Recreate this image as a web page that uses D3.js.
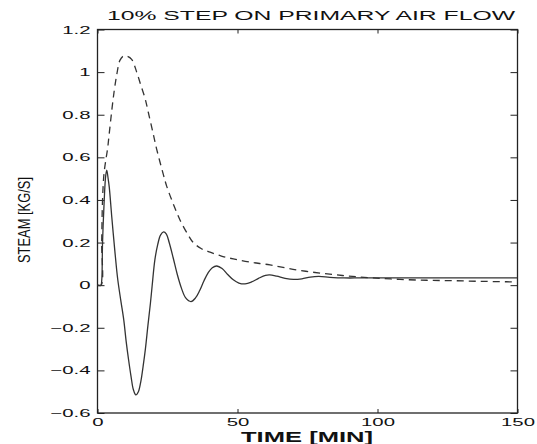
<!DOCTYPE html>
<html>
<head>
<meta charset="utf-8">
<script src="https://cdn.jsdelivr.net/npm/d3@7"></script>
<style>
  body { margin: 0; background: #fff; }
  text { font-family: "Liberation Sans", Arial, sans-serif; fill: #111; }
</style>
</head>
<body>
<script>
// step response
var xTicks = [0, 50, 100, 150];
var yTicks = [-0.6, -0.4, -0.2, 0, 0.2, 0.4, 0.6, 0.8, 1, 1.2];

// solid curve (oscillating)
var solidT = [0, 1.2, 1.5, 1.8, 2.4, 2.9, 3.3, 3.8, 4.2, 5.1, 6.2, 7.2, 8.3, 9.4, 10.2, 11.1,
  12, 12.8, 13.7, 14.6, 15.5, 16.3, 17.1, 18, 18.9, 19.5, 20.5, 21.5, 22.5, 23.6, 24.6,
  25.6, 27, 28.5, 30, 31.5, 33.4, 35, 36.5, 38, 39.5, 41, 42.6, 44.5, 46.5, 48.5, 50.5,
  52.7, 55, 57.5, 60, 61.5, 64, 67, 70, 73, 76, 79, 83, 88, 95, 150];
var solidV = [0, 0, 0.02, 0.2, 0.4, 0.51, 0.54, 0.5, 0.46, 0.32, 0.16, 0.03, -0.07, -0.165,
  -0.26, -0.35, -0.43, -0.49, -0.515, -0.5, -0.45, -0.38, -0.3, -0.19, -0.085, -0.005,
  0.12, 0.19, 0.235, 0.25, 0.24, 0.2, 0.13, 0.05, -0.015, -0.06, -0.077, -0.06, -0.025,
  0.02, 0.058, 0.082, 0.09, 0.078, 0.05, 0.025, 0.01, 0.006, 0.015, 0.032, 0.046, 0.048,
  0.042, 0.032, 0.027, 0.03, 0.038, 0.041, 0.037, 0.034, 0.034, 0.034];

// dashed curve (overshoot then slow decay)
var dashT = [0, 1.3, 1.5, 1.8, 2.3, 3, 3.6, 4.1, 5.1, 6, 6.9, 8, 9.2, 10.5, 12.2, 14, 15.2,
  17, 18.1, 19.9, 21.1, 23.5, 24.7, 27.1, 29.5, 32.4, 34.2, 37, 40.2, 44, 48.5, 54.5,
  61.6, 71, 80.5, 89.5, 98.4, 108, 117.6, 127, 136.6, 146, 150];
var dashV = [0, 0, 0.2, 0.4, 0.52, 0.59, 0.64, 0.7, 0.82, 0.915, 0.99, 1.055, 1.075, 1.075,
  1.06, 1.0, 0.95, 0.876, 0.814, 0.71, 0.64, 0.52, 0.465, 0.38, 0.305, 0.235, 0.2, 0.172,
  0.155, 0.138, 0.123, 0.108, 0.095, 0.072, 0.055, 0.043, 0.034, 0.027, 0.023, 0.021,
  0.018, 0.016, 0.015];

var w = 537, h = 444;
var pL = 97.5, pR = 517.5, pT = 29.5, pB = 413;
var sx = 1.85; // the fonts in the picture are stretched sideways

var svg = d3.select("body").append("svg")
  .attr("width", w)
  .attr("height", h);

var x = d3.scaleLinear().domain([0, 150]).range([pL, pR]);
var y = d3.scaleLinear().domain([-0.6, 1.2]).range([pB, pT]);

function fmt(d) {
  var s = d3.format("")(+d.toFixed(1));
  return s.replace("-", "\u2212");
}

// stretch tick text horizontally
function stretch(sel) {
  sel.selectAll("text").each(function() {
    var t = d3.select(this);
    var tx = +t.attr("x") || 0;
    t.attr("x", tx / sx).attr("transform", "scale(" + sx + ",1)");
  });
}

var gx = svg.append("g")
  .attr("transform", "translate(0," + pB + ")")
  .call(d3.axisBottom(x).tickValues(xTicks).tickSizeInner(-4).tickSizeOuter(0)
    .tickPadding(5).tickFormat(fmt));
gx.selectAll("text").attr("font-size", 11);
stretch(gx);

svg.append("g")
  .attr("transform", "translate(0," + pT + ")")
  .call(d3.axisTop(x).tickValues(xTicks).tickSizeInner(-4).tickSizeOuter(0).tickFormat(""));

var gy = svg.append("g")
  .attr("transform", "translate(" + pL + ",0)")
  .call(d3.axisLeft(y).tickValues(yTicks).tickSizeInner(-7).tickSizeOuter(0)
    .tickPadding(7).tickFormat(fmt));
gy.selectAll("text").attr("font-size", 11);
stretch(gy);

svg.append("g")
  .attr("transform", "translate(" + pR + ",0)")
  .call(d3.axisRight(y).tickValues(yTicks).tickSizeInner(-7).tickSizeOuter(0).tickFormat(""));

svg.selectAll(".domain").remove();
svg.selectAll(".tick line").attr("stroke", "#222").attr("stroke-width", 1);

// plot box
svg.append("rect")
  .attr("x", pL).attr("y", pT)
  .attr("width", pR - pL).attr("height", pB - pT)
  .attr("fill", "none").attr("stroke", "#222").attr("stroke-width", 1.3);

var line = d3.line()
  .x(function(d) { return x(d[0]); })
  .y(function(d) { return y(d[1]); })
  .curve(d3.curveCatmullRom.alpha(0.5));

svg.append("path")
  .datum(d3.zip(dashT, dashV))
  .attr("d", line)
  .attr("fill", "none")
  .attr("stroke", "#333")
  .attr("stroke-width", 1.3)
  .attr("stroke-dasharray", "7,5");

svg.append("path")
  .datum(d3.zip(solidT, solidV))
  .attr("d", line)
  .attr("fill", "none")
  .attr("stroke", "#333")
  .attr("stroke-width", 1.3);

// title and axis labels
svg.append("text")
  .attr("x", 311).attr("y", 19.5)
  .attr("text-anchor", "middle")
  .attr("font-size", 12)
  .attr("textLength", 408)
  .attr("lengthAdjust", "spacingAndGlyphs")
  .text("10% STEP ON  PRIMARY AIR FLOW");

svg.append("text")
  .attr("x", 307).attr("y", 441.5)
  .attr("text-anchor", "middle")
  .attr("font-size", 14.5)
  .attr("font-weight", "bold")
  .attr("textLength", 132)
  .attr("lengthAdjust", "spacingAndGlyphs")
  .text("TIME [MIN]");

svg.append("text")
  .attr("transform", "translate(30,220) rotate(-90)")
  .attr("text-anchor", "middle")
  .attr("font-size", 17)
  .attr("textLength", 86)
  .attr("lengthAdjust", "spacingAndGlyphs")
  .text("STEAM [KG/S]");
</script>
</body>
</html>
